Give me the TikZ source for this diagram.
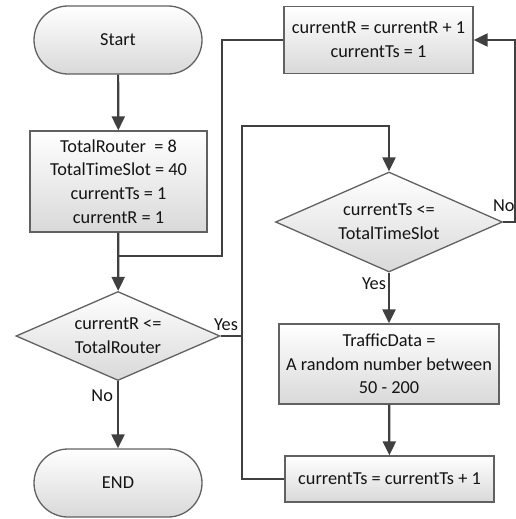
\documentclass[tikz,border=0pt]{standalone}
\usepackage{fontspec}
\setmainfont{Carlito}
\usetikzlibrary{shapes.geometric,arrows.meta,calc}
\begin{document}
\begin{tikzpicture}[x=1pt,y=-1pt,
  every node/.style={font=\fontsize{18.3}{23.7}\selectfont, text=black!92},
  boxst/.style={draw=black!62, line width=1.3pt, top color=white, bottom color=black!15, inner sep=0pt, align=center},
  procbox/.style={boxst, rectangle},
  termbox/.style={boxst, rectangle, rounded corners=34pt, minimum width=168pt, minimum height=68pt},
  decbox/.style={boxst, diamond},
  conn/.style={draw=black!75, line width=2.2pt},
  arr/.style={conn, -{Triangle[length=14pt,width=13pt]}},
  lab/.style={font=\fontsize{18.3}{20}\selectfont, inner sep=0pt, text=black!92}
]
\useasboundingbox (0,0) rectangle (516,519);

\node[termbox] (start) at (118,40) {Start};
\node[procbox, minimum width=177pt, minimum height=101pt] (init) at (118.5,181.5) {TotalRouter~ = 8\\TotalTimeSlot = 40\\currentTs = 1\\currentR = 1};
\node[decbox, aspect=2.29, minimum width=204pt, minimum height=89pt] (d1) at (118,336) {currentR <=\\TotalRouter};
\node[termbox] (endn) at (118,483) {END};
\node[procbox, minimum width=189pt, minimum height=67pt] (incR) at (378.5,40) {currentR = currentR + 1\\currentTs = 1};
\node[decbox, aspect=2.27, minimum width=227pt, minimum height=100pt] (d2) at (389,222) {currentTs <=\\TotalTimeSlot};
\node[procbox, minimum width=220pt, minimum height=80pt] (traffic) at (389,364) {TrafficData =\\A random number between\\50 - 200};
\node[procbox, minimum width=209pt, minimum height=46pt] (incT) at (389.5,479) {currentTs = currentTs + 1};

\coordinate (m1) at (118,256);
\coordinate (r1) at (222,256);
\coordinate (yj) at (242,336);
\coordinate (c1) at (242,126);
\coordinate (c2) at (515,40);

\draw[arr] (start) -- (init);
\draw[arr] (init) -- (d1);
\draw[conn] (incR.west) -| (r1) -- (m1);
\draw[arr] (d1) -- node[lab, pos=0.22, left=4pt] {No} (endn);
\draw[conn] (d1.east) -- node[lab, pos=0.25, above=4pt] {Yes} (yj);
\draw[arr] (incT.west) -| (c1) -| (d2.north);
\draw[arr] (d2.east) -| node[lab, pos=0.03, above=9pt] {No} (c2) -- (incR.east);
\draw[arr] (d2) -- node[lab, pos=0.21, left=2pt] {Yes} (traffic);
\draw[arr] (traffic) -- (incT);
\end{tikzpicture}
\end{document}
